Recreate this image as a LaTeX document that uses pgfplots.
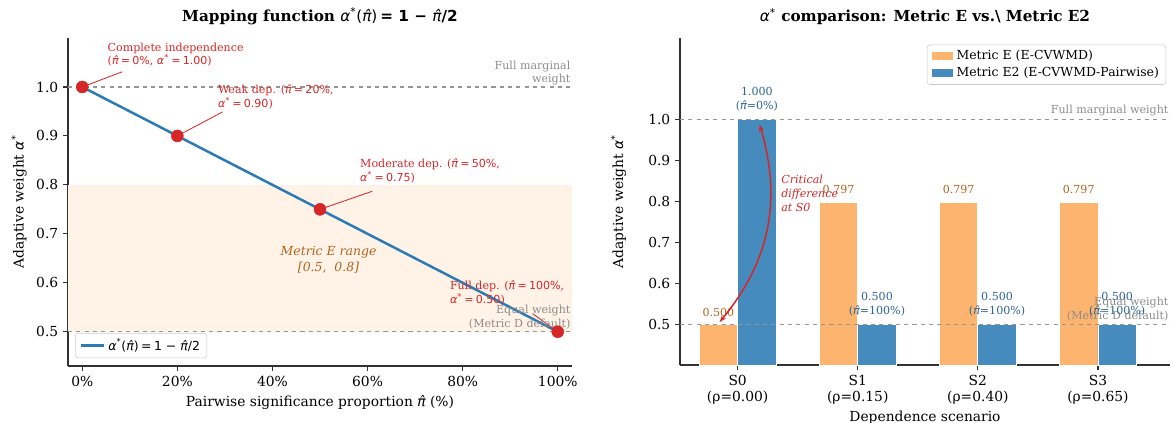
\documentclass[border=0pt]{standalone}
\usepackage{pgfplots}
\pgfplotsset{compat=1.18}
\usepackage{fontspec}
\setmainfont{DejaVu Serif}
\newfontfamily\dvs{DejaVu Sans}
\usetikzlibrary{arrows.meta}
\newcommand\ph{{\dvs\mdseries\itshape π̂}}
\newcommand\al{{\dvs\mdseries\itshape α\textsuperscript{\upshape *}}}
\newcommand\eq{\kern0.2em{\dvs\mdseries\upshape =}\kern0.2em}
\newcommand\m[1]{{\dvs\mdseries\upshape #1}}
\definecolor{lblue}{RGB}{44,123,182}
\definecolor{mred}{RGB}{214,39,40}
\definecolor{bandc}{RGB}{255,242,231}
\definecolor{barO}{RGB}{253,180,110}
\definecolor{barB}{RGB}{69,139,190}
\definecolor{txtO}{RGB}{178,100,30}
\definecolor{txtB}{RGB}{45,100,150}
\definecolor{gtxt}{RGB}{140,140,140}
\definecolor{gline}{RGB}{150,150,150}
\definecolor{spine}{RGB}{50,50,50}
\begin{document}
\begin{tikzpicture}
\path[use as bounding box] (0,0) rectangle (844.56bp,-304.56bp);
\pgfplotsset{
  every axis/.append style={
    scale only axis,
    axis lines*=left,
    axis line style={spine, line width=0.8bp},
    tick style={spine, line width=0.8bp},
    tick align=outside,
    major tick length=3.5bp,
    /pgf/number format/assume math mode=true,
    tick label style={font=\fontsize{10}{12}\selectfont},
    label style={font=\fontsize{10}{12}\selectfont},
    title style={font=\fontsize{11}{13}\selectfont\bfseries},
    legend style={font=\fontsize{9}{11}\selectfont, draw=black!20, rounded corners=2pt},
  },
  patchleg/.style={legend image code/.code={\fill[##1, sharp corners] (0cm,-0.11cm) rectangle (0.55cm,0.13cm);}},
}
% ---------------- Left panel ----------------
\begin{axis}[
  at={(48.96bp,-263.52bp)}, anchor=south west,
  width=362.88bp, height=236.16bp,
  xmin=-3, xmax=103, ymin=0.43, ymax=1.10,
  xtick={0,20,40,60,80,100},
  xticklabel={\pgfmathprintnumber{\tick}\%},
  ytick={0.5,0.6,0.7,0.8,0.9,1.0},
  yticklabel style={/pgf/number format/.cd, fixed, fixed zerofill, precision=1},
  xlabel={Pairwise significance proportion \ph{} (\%)},
  ylabel={Adaptive weight \al},
  title={Mapping function \al\m{(}\ph\m{)}\kern0.2em{\dvs\bfseries = 1 − }\ph{\dvs\bfseries /2}},
  legend style={at={(0.014,0.024)}, anchor=south west, legend cell align=left},
  clip=false,
]
\addplot[draw=none, fill=bandc, forget plot] coordinates {(-3,0.5) (103,0.5) (103,0.8) (-3,0.8)} -- cycle;
\addplot[gline, dashed, line width=0.8bp, forget plot] coordinates {(-3,1.0) (103,1.0)};
\addplot[gline, dashed, line width=0.8bp, forget plot] coordinates {(-3,0.5) (103,0.5)};
\addplot[lblue, line width=1.8bp] coordinates {(0,1.0) (100,0.5)};
\addlegendentry{\al\m{(}\ph\m{)}\eq\m{1 − }\ph\m{/2}}
\addplot[only marks, mark=*, mark size=4.3bp, mark options={fill=mred, draw=mred}, forget plot] coordinates {(0,1.0) (20,0.9) (50,0.75) (100,0.5)};
% annotations
\begin{scope}[every node/.style={font=\fontsize{8}{10}\selectfont, text=mred, inner sep=1pt, align=left}]
\draw[mred, line width=0.6bp] (axis cs:0,1.0) -- (axis cs:8.4,1.031);
\node[anchor=north west] at (axis cs:5.0,1.094) {Complete independence\\(\ph\eq\m{0\%}, \al\eq\m{1.00})};
\draw[mred, line width=0.6bp] (axis cs:20,0.9) -- (axis cs:29.5,0.949);
\node[anchor=north west] at (axis cs:28.2,1.008) {Weak dep. (\ph\eq\m{20\%},\\\al\eq\m{0.90})};
\draw[mred, line width=0.6bp] (axis cs:50,0.75) -- (axis cs:61.0,0.787);
\node[anchor=north west] at (axis cs:58.1,0.857) {Moderate dep. (\ph\eq\m{50\%},\\\al\eq\m{0.75})};
\draw[mred, line width=0.6bp] (axis cs:100,0.5) -- (axis cs:94.7,0.537);
\node[anchor=north west] at (axis cs:77.0,0.607) {Full dep. (\ph\eq\m{100\%},\\\al\eq\m{0.50})};
\end{scope}
\node[anchor=north east, font=\fontsize{8}{10}\selectfont, text=gtxt, align=right, inner sep=1pt] at (axis cs:103,1.057) {Full marginal\\weight};
\node[anchor=north east, font=\fontsize{8}{10}\selectfont, text=gtxt, align=right, inner sep=1pt] at (axis cs:103,0.557) {Equal weight\\(Metric D default)};
\node[font=\fontsize{9}{11}\selectfont\itshape, text=txtO, align=center] at (axis cs:51.8,0.647) {Metric E range\\{}[0.5,\ \ 0.8]};
\end{axis}
% ---------------- Right panel ----------------
\begin{axis}[
  at={(489.6bp,-262.8bp)}, anchor=south west,
  width=352.8bp, height=235.44bp,
  xmin=-0.48, xmax=3.6, ymin=0.4, ymax=1.2,
  xtick={0,1,2,3},
  xticklabels={{S0\\(ρ=0.00)},{S1\\(ρ=0.15)},{S2\\(ρ=0.40)},{S3\\(ρ=0.65)}},
  xticklabel style={align=center},
  ytick={0.5,0.6,0.7,0.8,0.9,1.0},
  yticklabel style={/pgf/number format/.cd, fixed, fixed zerofill, precision=1},
  xlabel={Dependence scenario},
  xlabel style={yshift=2bp},
  ylabel={Adaptive weight \al},
  ylabel style={yshift=9bp},
  title={\al\ comparison: Metric E vs.\textbackslash\ Metric E2},
  legend style={at={(0.992,0.98)}, anchor=north east, legend cell align=left},
  ybar, bar width=0.32,
  clip=true,
]
\addplot[ybar, bar shift=-0.16, fill=barO, draw=white, line width=0.6bp, patchleg] coordinates {(0,0.500) (1,0.797) (2,0.797) (3,0.797)};
\addlegendentry{Metric E (E-CVWMD)}
\addplot[ybar, bar shift=0.16, fill=barB, draw=white, line width=0.6bp, patchleg] coordinates {(0,1.000) (1,0.500) (2,0.500) (3,0.500)};
\addlegendentry{Metric E2 (E-CVWMD-Pairwise)}
\addplot[sharp plot, gline, dashed, line width=0.8bp, forget plot] coordinates {(-0.48,1.0) (3.6,1.0)};
\addplot[sharp plot, gline, dashed, line width=0.8bp, forget plot] coordinates {(-0.48,0.5) (3.6,0.5)};
\node[anchor=south east, font=\fontsize{8}{10}\selectfont, text=gtxt, align=right, inner sep=1pt] at (axis cs:3.6,1.005) {Full marginal weight};
\node[anchor=south east, font=\fontsize{8}{10}\selectfont, text=gtxt, align=right, inner sep=1pt] at (axis cs:3.6,0.503) {Equal weight\\(Metric D default)};
\begin{scope}[every node/.style={font=\fontsize{8}{10}\selectfont, align=center, inner sep=1pt, anchor=south}]
\node[text=txtO] at (axis cs:-0.16,0.515) {0.500};
\node[text=txtO] at (axis cs:0.84,0.815) {0.797};
\node[text=txtO] at (axis cs:1.84,0.815) {0.797};
\node[text=txtO] at (axis cs:2.84,0.815) {0.797};
\node[text=txtB] at (axis cs:0.16,1.018) {1.000\\(\ph=0\%)};
\node[text=txtB] at (axis cs:1.16,0.515) {0.500\\(\ph=100\%)};
\node[text=txtB] at (axis cs:2.16,0.515) {0.500\\(\ph=100\%)};
\node[text=txtB] at (axis cs:3.16,0.515) {0.500\\(\ph=100\%)};
\end{scope}
\draw[mred, line width=1.1bp, {Stealth[length=5bp]}-{Stealth[length=5bp]}] (axis cs:-0.15,0.505) to[bend right=28] (axis cs:0.183,0.988);
\node[anchor=north west, font=\fontsize{8}{10}\selectfont\itshape, text=mred, align=left, inner sep=1pt] at (axis cs:0.35,0.868) {Critical\\difference\\at S0};
\end{axis}
\end{tikzpicture}
\end{document}
